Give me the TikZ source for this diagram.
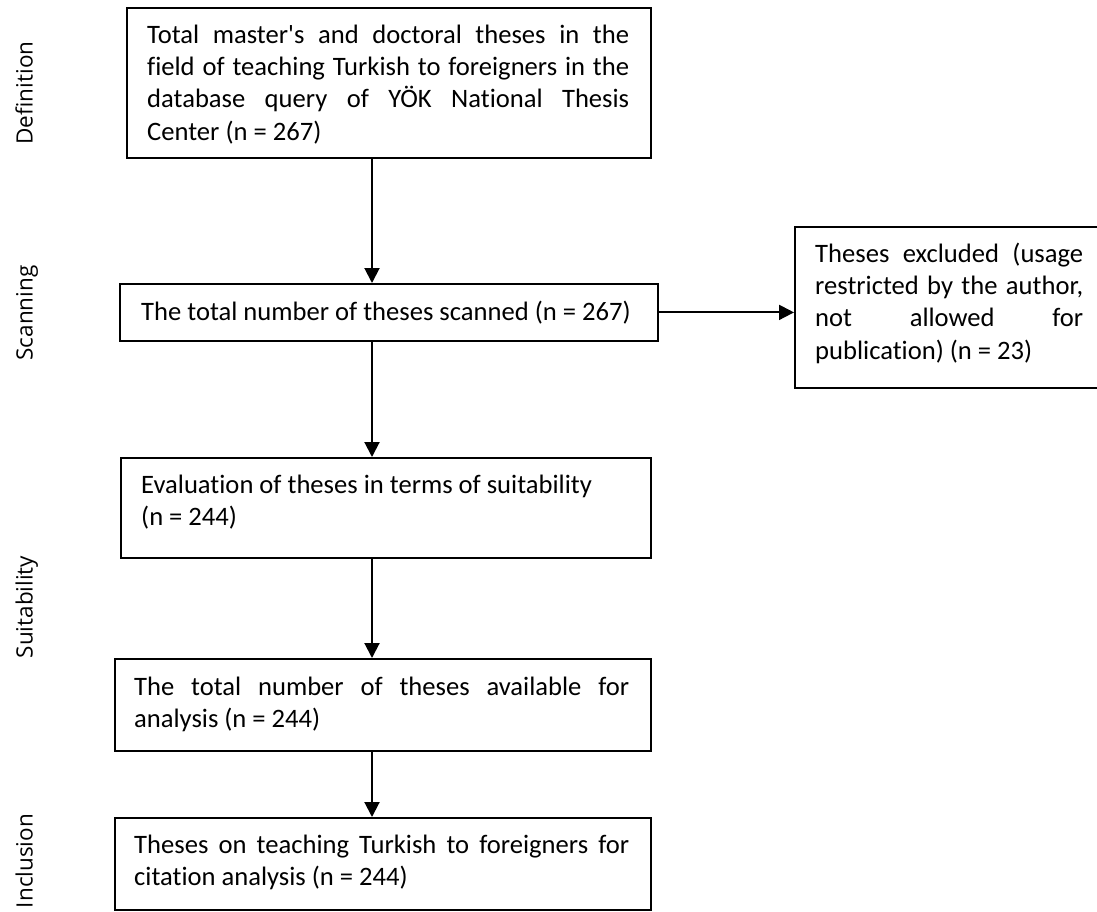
\documentclass[tikz,border=0pt]{standalone}
\usepackage{fontspec}
\setmainfont{Carlito}[Ligatures={NoCommon}]
\newfontfamily\sidefont{Open Sans}
\usetikzlibrary{arrows.meta}
\hbadness=10000
\hfuzz=20pt
\begin{document}
\begin{tikzpicture}[x=1pt,y=-1pt,
  boxframe/.style={draw, line width=1.8pt, inner sep=0pt, anchor=north west},
  textblk/.style={anchor=base west, inner sep=0pt, align=justify, font=\fontsize{26.6}{32.4}\selectfont},
  sidelab/.style={rotate=90, anchor=base, inner sep=0pt, font=\sidefont\fontsize{22.5}{27}\selectfont},
  flowarrow/.style={line width=2pt, -{Triangle[width=15pt,length=15pt]}}]
\useasboundingbox (0,0) rectangle (1097,911);

% frames
\node[boxframe, minimum width=524pt, minimum height=150pt] (b1) at (126,7) {};
\node[boxframe, minimum width=538pt, minimum height=57pt]  (b2) at (119,283) {};
\node[boxframe, minimum width=310pt, minimum height=161pt] (b3) at (794,226) {};
\node[boxframe, minimum width=530pt, minimum height=100pt] (b4) at (120,457) {};
\node[boxframe, minimum width=536pt, minimum height=92pt]  (b5) at (114,658) {};
\node[boxframe, minimum width=536pt, minimum height=92pt]  (b6) at (114,817) {};

% texts
\node[textblk, text width=482pt] (t1) at (147,43) {Total master\textquotesingle s and doctoral theses in the\linebreak field of teaching Turkish to foreigners in the\linebreak database query of YÖK National Thesis\linebreak Center (n = 267)};
\node[textblk, text width=494pt] (t2) at (141,320) {The total number of theses scanned (n = 267)};
\node[textblk, text width=268pt] (t3) at (815,262) {Theses excluded (usage\linebreak restricted by the author,\linebreak not allowed for\linebreak publication) (n = 23)};
\node[textblk, text width=488pt] (t4) at (141,493) {Evaluation of theses in terms of suitability\newline (n = 244)};
\node[textblk, text width=495pt] (t5) at (134,695) {The total number of theses available for\linebreak analysis (n = 244)};
\node[textblk, text width=495pt] (t6) at (134,853) {Theses on teaching Turkish to foreigners for\linebreak citation analysis (n = 244)};

% side labels
\node[sidelab] (l1) at (32.5,93) {Definition};
\node[sidelab] (l2) at (32.5,313) {Scanning};
\node[sidelab] (l3) at (32.5,607) {Suitability};
\node[sidelab] (l4) at (32.5,861) {Inclusion};

% connectors
\coordinate (ax) at (372,0);
\draw[flowarrow] (b1.south -| ax) -- (b2.north -| ax);
\draw[flowarrow] (b2.south -| ax) -- (b4.north -| ax);
\draw[flowarrow] (b4.south -| ax) -- (b5.north -| ax);
\draw[flowarrow] (b5.south -| ax) -- (b6.north -| ax);
\draw[flowarrow] (b2.east) -- (b2.east -| b3.west);
\end{tikzpicture}
\end{document}
